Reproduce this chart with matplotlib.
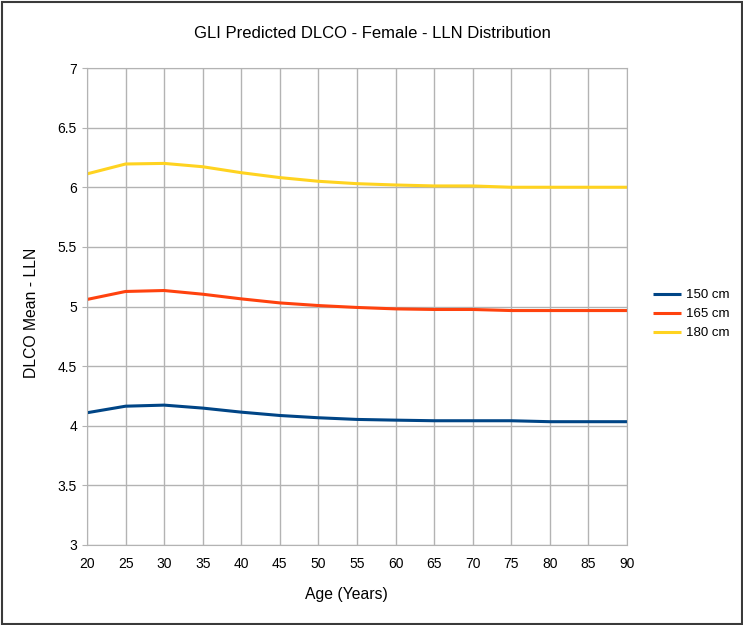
import numpy as np
import matplotlib.pyplot as plt
from matplotlib.patches import Rectangle

plt.rcParams['font.family'] = ['Liberation Sans', 'DejaVu Sans']

ages = [20, 25, 30, 35, 40, 45, 50, 55, 60, 65, 70, 75, 80, 85, 90]
h150 = [4.109, 4.164, 4.173, 4.148, 4.114, 4.086, 4.067, 4.053, 4.047, 4.042, 4.042, 4.042, 4.034, 4.034, 4.034]
h165 = [5.059, 5.126, 5.134, 5.103, 5.064, 5.030, 5.008, 4.992, 4.980, 4.975, 4.975, 4.966, 4.966, 4.966, 4.966]
h180 = [6.112, 6.195, 6.200, 6.172, 6.122, 6.081, 6.050, 6.030, 6.019, 6.011, 6.011, 6.000, 6.000, 6.000, 6.000]
series = [('150 cm', h150, '#004586'), ('165 cm', h165, '#ff420e'), ('180 cm', h180, '#ffd320')]

W, H = 743, 625
fig = plt.figure(figsize=(W / 100, H / 100), dpi=100)
ax = fig.add_axes([87 / W, 1 - 545 / H, 540 / W, 477 / H])

for name, vals, col in series:
    ax.plot(ages, vals, color=col, lw=2.2, label=name, solid_capstyle='butt')

ax.set_xlim(20, 90)
ax.set_ylim(3, 7)
ax.set_xticks(ages)
ax.set_yticks(np.arange(3, 7.01, 0.5))
ax.set_yticklabels(['3', '3.5', '4', '4.5', '5', '5.5', '6', '6.5', '7'])
ax.grid(True, color='#b3b3b3', lw=1)
ax.set_axisbelow(True)
for s in ax.spines.values():
    s.set_color('#b3b3b3')
ax.tick_params(axis='y', colors='#b3b3b3', labelcolor='black', length=3.6, pad=3.6, labelsize=10)
ax.tick_params(axis='x', length=0, pad=8.5, labelsize=10)

# text placed in pixel positions like the reference
fig.text(372 / W, 1 - 33 / H, 'GLI Predicted DLCO - Female - LLN Distribution',
         ha='center', va='center', fontsize=12)
fig.text(346.5 / W, 1 - 594.5 / H, 'Age (Years)', ha='center', va='center', fontsize=11.3)
fig.text(31.5 / W, 1 - 312.5 / H, 'DLCO Mean - LLN', ha='center', va='center',
         rotation=90, fontsize=11.3)

ax.legend(loc='center left', bbox_to_anchor=(1.0256, 0.484), frameon=False,
          fontsize=9.5, handlelength=2.15, labelspacing=0.52, handletextpad=0.38)

fig.patches.append(Rectangle((1.5 / W, 1.5 / H), (W - 3) / W, (H - 3) / H, transform=fig.transFigure,
                             fill=False, edgecolor='#3a3a3a', lw=1.5))
fig.savefig('out.png', dpi=100)
